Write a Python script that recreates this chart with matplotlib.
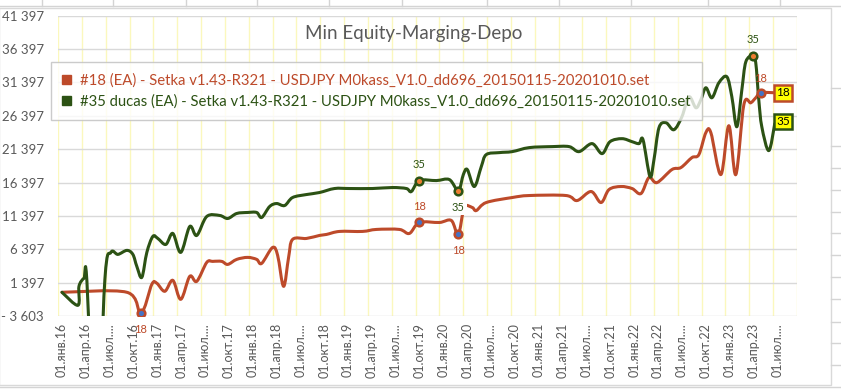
import numpy as np
import matplotlib
matplotlib.use('Agg')
import matplotlib.pyplot as plt
import matplotlib.transforms as mtransforms
from matplotlib.path import Path
from matplotlib.patches import PathPatch, Patch, Rectangle
from matplotlib.lines import Line2D

plt.rcParams['font.family'] = ['Lato', 'DejaVu Sans']

# x = months since 01.01.2016, y = min equity
red_x = [0.50, 8.67, 10.43, 11.81, 12.44, 13.44, 14.45, 15.45, 16.58, 17.46, 18.72,
         19.47, 20.60, 21.36, 22.49, 23.87, 25.00, 25.63, 27.01, 27.64, 28.39, 29.02, 29.52,
         31.28, 32.91, 33.79, 35.43, 38.32, 40.08, 42.96, 44.22, 45.48, 47.99, 49.50, 50.38,
         51.13, 52.14, 52.64, 53.89, 57.16, 59.30, 63.94, 65.33, 67.09, 68.34, 69.35, 70.85,
         72.24, 73.37, 74.37, 75.38, 77.26, 78.39, 79.77, 80.65, 81.53, 82.16, 83.42, 84.42,
         85.30, 86.31, 87.19, 87.81, 88.44, 90.20]
red_y = [-50, -50, -3200, 1150, 1300, 100, 1740, -1100, 2340, 1590, 4430,
         4580, 4580, 4130, 4880, 5180, 4880, 4280, 6670, 5480, 840, 5180, 7870,
         8020, 8470, 8620, 9070, 9070, 9370, 9370, 8770, 10410, 10410, 10710, 8620,
         12650, 12650, 12200, 13400, 14150, 14450, 14450, 13700, 15050, 13400, 15350, 15800,
         15500, 14750, 17140, 16390, 18340, 18640, 20130, 20580, 23870, 23870, 17590, 24910,
         17590, 28050, 28350, 29100, 29850, 29850]

green_x = [0.50, 2.51, 2.64, 3.27, 3.64, 4.77, 5.90, 6.66, 7.54, 8.67, 9.42, 9.92,
           10.55, 11.18, 11.93, 12.56, 13.57, 14.45, 15.45, 16.58, 17.46, 18.72, 20.35, 21.36,
           22.49, 23.87, 25.00, 25.63, 26.63, 27.51, 28.52, 29.52, 31.28, 32.91, 34.80, 36.68,
           39.57, 42.09, 43.84, 44.47, 45.48, 47.61, 49.25, 50.38, 51.01, 51.51, 52.39, 53.27,
           53.89, 55.53, 57.16, 59.30, 62.19, 64.32, 65.58, 67.21, 68.47, 69.47, 70.98, 72.24,
           73.12, 73.62, 74.50, 75.00, 75.63, 76.51, 77.51, 78.52, 79.40, 80.28, 80.90, 81.53,
           82.29, 83.17, 84.17, 84.80, 85.43, 86.06, 86.56, 87.44, 87.81, 88.19, 88.57, 89.45,
           90.20]
green_y = [-50, -2000, 850, 2040, 1590, -26000, 1890, 5930, 5630, 6230, 5630, 3830,
           2190, 5930, 8320, 8020, 7120, 8770, 5930, 9810, 8470, 11310, 11460, 11010,
           11760, 11910, 11910, 11160, 12800, 13250, 12950, 14150, 14600, 14900, 15500, 15500,
           15500, 15650, 15500, 15050, 16690, 16690, 16840, 15200, 17590, 18340, 15800, 18790,
           20580, 20880, 21030, 21630, 21780, 21780, 21030, 22230, 20730, 22520, 22970, 22520,
           22230, 22820, 17290, 19830, 24610, 25360, 24310, 26270, 29250, 27600, 28800, 30600,
           29100, 31350, 32250, 29250, 24760, 30300, 34490, 35380, 34340, 28800, 24760, 21180,
           25210]

red_marks = [10.43, 45.48, 50.38, 88.44]
red_label_dy = [-12, 11.5, -11.5, 10]
green_marks = [45.48, 50.38, 87.44]
green_label_dy = [11.5, -12, 11.5]

red_name = '#18 (EA) - Setka v1.43-R321 - USDJPY M0kass_V1.0_dd696_20150115-20201010.set'
green_name = '#35 ducas (EA) - Setka v1.43-R321 - USDJPY M0kass_V1.0_dd696_20150115-20201010.set'

months = ['янв', 'апр', 'июл', 'окт']
years = ['16', '17', '18', '19', '20', '21', '22', '23']
y_ticks = [-3603, 1397, 6397, 11397, 16397, 21397, 26397, 31397, 36397, 41397]

red = '#bd4a2a'
green = '#2c5214'
grey = '#595959'

W, H = 841, 389


def smooth(ax, x, y, color):
    # excel-like smoothed line (bezier through the points)
    x = np.asarray(x, float)
    y = np.asarray(y, float)
    n = len(x)
    verts = [(x[0], y[0])]
    codes = [Path.MOVETO]
    for i in range(n - 1):
        a = max(i - 1, 0)
        d = min(i + 2, n - 1)
        c1 = (x[i] + (x[i + 1] - x[a]) / 6, y[i] + (y[i + 1] - y[a]) / 6)
        c2 = (x[i + 1] - (x[d] - x[i]) / 6, y[i + 1] - (y[d] - y[i]) / 6)
        verts += [c1, c2, (x[i + 1], y[i + 1])]
        codes += [Path.CURVE4] * 3
    ax.add_patch(PathPatch(Path(verts, codes), fill=False, edgecolor=color, lw=2.2,
                           capstyle='round', joinstyle='round', zorder=3))


fig = plt.figure(figsize=(W / 100, H / 100), dpi=100)
ax = fig.add_axes([58 / W, 1 - 316 / H, (797 - 58) / W, (316 - 15.7) / H])

smooth(ax, red_x, red_y, red)
smooth(ax, green_x, green_y, green)

# markers + data labels
for m, dy in zip(red_marks, red_label_dy):
    i = red_x.index(m)
    ax.plot(red_x[i], red_y[i], 'o', ms=5.5, mfc='#4472c4', mec=red, mew=1.8, zorder=4)
    ax.annotate('18', (red_x[i], red_y[i]), xytext=(0, dy), textcoords='offset points',
                ha='center', va='center', color=red, fontsize=8)
for m, dy in zip(green_marks, green_label_dy):
    i = green_x.index(m)
    ax.plot(green_x[i], green_y[i], 'o', ms=5.5, mfc='#ed7d31', mec=green, mew=1.8, zorder=4)
    bb = dict(fc='white', ec='none', pad=1.5) if dy < 0 else None
    ax.annotate('35', (green_x[i], green_y[i]), xytext=(0, dy), textcoords='offset points',
                ha='center', va='center', color=green, fontsize=8, bbox=bb, zorder=5)

# last point labels
ax.annotate('18', (red_x[-1], red_y[-1]), xytext=(6, 0), textcoords='offset points',
            ha='center', va='center', color='black', fontsize=8.5, zorder=6,
            bbox=dict(boxstyle='square,pad=0.2', fc='#ffff00', ec=red, lw=1.8))
ax.annotate('35', (green_x[-1], green_y[-1]), xytext=(6, 1.5), textcoords='offset points',
            ha='center', va='center', color='black', fontsize=8.5, zorder=6,
            bbox=dict(boxstyle='square,pad=0.2', fc='#ffff00', ec=green, lw=1.8))

ax.set_xlim(0, 93)
ax.set_ylim(-3603, 41397)

xt = list(range(0, 94, 3))
xl = []
for yy in years:
    for mo in months:
        if mo == 'июл':
            xl.append('01.июл....')
        else:
            xl.append('01.' + mo + '.' + yy)
xl = xl[:31] + ['']
ax.set_xticks(xt)
ax.set_xticklabels(xl, rotation=90, fontsize=9, color=grey)
ax.set_yticks(y_ticks)
ax.set_yticklabels([('- ' if v < 0 else '') + f'{abs(v):,}'.replace(',', ' ') for v in y_ticks],
                   fontsize=9.5, color=grey)
ax.tick_params(axis='both', length=0)
ax.tick_params(axis='x', pad=5)
ax.tick_params(axis='y', pad=10)
off = mtransforms.ScaledTranslation(4 / 100, 0, fig.dpi_scale_trans)
for lbl in ax.get_xticklabels():
    lbl.set_transform(lbl.get_transform() + off)

ax.grid(axis='y', color='#d9d9d9', lw=1)
ax.grid(axis='x', color='#fbf8bd', lw=1)
ax.set_axisbelow(True)
for s in ax.spines.values():
    s.set_visible(False)

leg = ax.legend([Patch(color=red), Patch(color=green)], [red_name, green_name],
                loc='upper left', bbox_to_anchor=(51 / W, 1 - 62 / H), bbox_transform=fig.transFigure,
                fancybox=False, handlelength=0.6, handleheight=0.6, handletextpad=0.6,
                borderpad=0.75, labelspacing=0.45, fontsize=10.7, borderaxespad=0)
leg.set_zorder(7)
leg.get_frame().set_facecolor((1, 1, 1, 0.72))
leg.get_frame().set_edgecolor('#bfbfbf')
for t, c in zip(leg.get_texts(), [red, green]):
    t.set_color(c)

fig.text(414 / W, 1 - 33 / H, 'Min Equity-Marging-Depo', ha='center', va='center',
         fontsize=13.5, color=grey)

# spreadsheet around the chart
def fline(x0, y0, x1, y1):
    fig.add_artist(Line2D([x0 / W, x1 / W], [1 - y0 / H, 1 - y1 / H], color='#d4d4d4', lw=1))

fline(0, 6, W, 6)
for cx in [42, 113, 186, 257, 329, 402, 487, 559, 631, 708, 780]:
    fline(cx, 0, cx, 6)
fig.add_artist(Rectangle((-1 / W, 1 - 385 / H), 832 / W, (385 - 8) / H, transform=fig.transFigure,
                         fill=False, ec='#d9d9d9', lw=1))
for ry in [88, 146, 168, 190, 212, 233, 255, 277, 299, 322, 343, 365]:
    fline(831, ry, W, ry)
fline(0, 387, W, 387)

fig.savefig('out.png', dpi=100)
